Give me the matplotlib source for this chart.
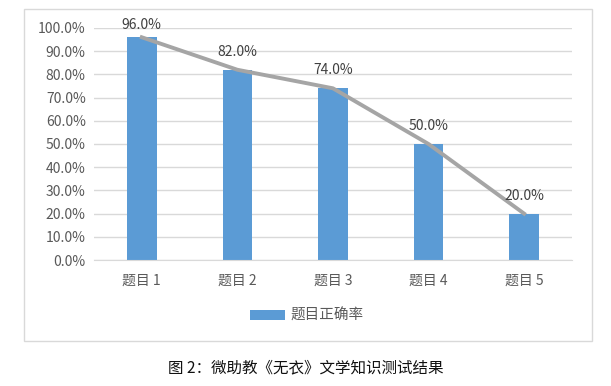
import matplotlib
matplotlib.use("Agg")
import matplotlib.pyplot as plt
from matplotlib.patches import Rectangle
from matplotlib.ticker import FuncFormatter

plt.rcParams["font.family"] = ["Noto Sans CJK SC", "DejaVu Sans"]

categories = ["题目 1", "题目 2", "题目 3", "题目 4", "题目 5"]
accuracy = [0.96, 0.82, 0.74, 0.50, 0.20]
series_name = "题目正确率"
caption = "图 2：微助教《无衣》文学知识测试结果"

BAR = "#5B9BD5"
LINE = "#A5A5A5"
TXT = "#595959"
GRID = "#D9D9D9"

fig = plt.figure(figsize=(6.11, 3.86), dpi=100)
ax = fig.add_axes([0.1538, 0.3264, 0.7822, 0.6011])

x = range(len(categories))
ax.bar(x, accuracy, width=0.31, color=BAR, label=series_name, zorder=2)
ax.plot(x, accuracy, color=LINE, lw=2.8, zorder=3)
# labels sit above the line points, kept inside the top of the plot area
for xi, v in zip(x, accuracy):
    ax.text(xi, min(v + 0.078, 1.015), f"{v*100:.1f}%", ha="center", va="center",
            fontsize=10, color="#404040", zorder=4)

ax.set_xlim(-0.5, len(categories) - 0.5)
ax.set_ylim(0, 1.0)
ax.set_yticks([i / 10 for i in range(11)])
ax.yaxis.set_major_formatter(FuncFormatter(lambda v, p: f"{v*100:.1f}%"))
ax.set_xticks(list(x))
ax.set_xticklabels(categories)
ax.grid(axis="y", color=GRID, lw=1, zorder=0)
ax.set_axisbelow(True)
for s in ["top", "right", "left"]:
    ax.spines[s].set_visible(False)
ax.spines["bottom"].set_color(GRID)
ax.tick_params(axis="both", length=0, colors=TXT, labelsize=10)
ax.tick_params(axis="x", pad=10)
ax.tick_params(axis="y", pad=6)

fig.legend(loc="center", bbox_to_anchor=(0.502, 0.181), frameon=False,
           fontsize=10.5, labelcolor=TXT, handlelength=2.4, handleheight=0.7,
           handletextpad=0.4)

fig.patches.append(Rectangle((0.0393, 0.1166), 0.9296, 0.860,
                             transform=fig.transFigure, fill=False,
                             edgecolor=GRID, lw=1))

fig.text(0.5, 0.047, caption, ha="center", va="center", fontsize=11.2, color="#111111")

fig.savefig("out.png", dpi=100)
